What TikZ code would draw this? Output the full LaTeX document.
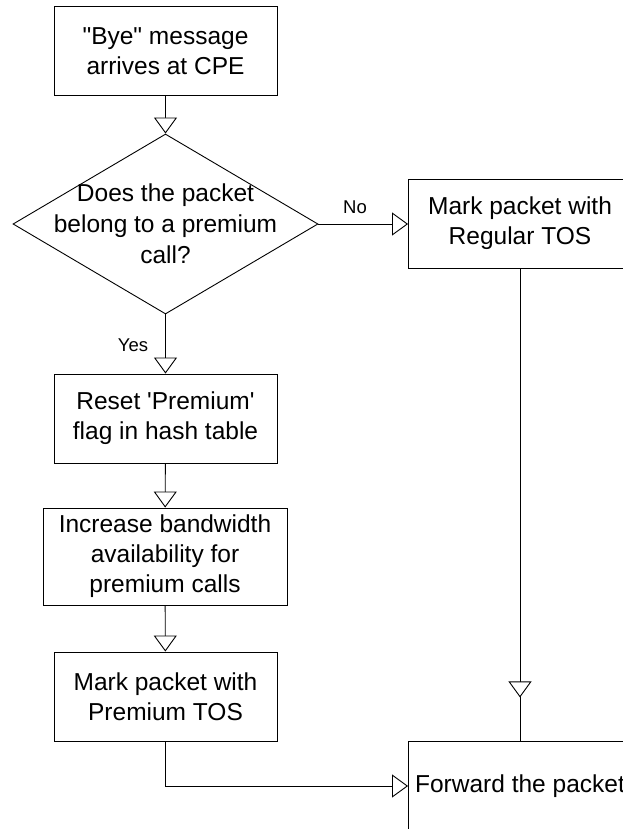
\documentclass[tikz,border=0pt]{standalone}
\usepackage{fontspec}
\setmainfont{Liberation Sans}
\usetikzlibrary{arrows.meta,shapes.geometric,decorations.markings}
\begin{document}
\begin{tikzpicture}[x=1pt,y=-1pt,
  line width=0.9pt,
  openhead/.tip={Triangle[length=16pt,width=23pt,fill=white,line width=0.9pt]},
  flow/.style={draw,-openhead},
  stepbox/.style={draw,rectangle,inner sep=0pt,minimum width=223pt,minimum height=89pt,
    align=center,font=\fontsize{24.5}{30}\selectfont},
  decision/.style={draw,diamond,inner sep=0pt,minimum width=305pt,minimum height=180pt},
  decisiontext/.style={align=center,font=\fontsize{24.5}{31}\selectfont},
  branch/.style={inner sep=0pt,font=\fontsize{18.5}{22}\selectfont}
]
\useasboundingbox (0,0) rectangle (623,829);
\clip (0,0) rectangle (623,829);

% left column
\node[stepbox] (bye) at (165.5,51) {\textquotedbl Bye\textquotedbl{} message\\arrives at CPE};
\node[decision] (dia) at (165.5,224) {};
\node[decisiontext] (diatext) at (165.5,224) {Does the packet\\belong to a premium\\call?};
\node[stepbox] (reset) at (165.5,418.5) {Reset \textquotesingle Premium\textquotesingle\\flag in hash table};
\node[stepbox,minimum width=244pt,minimum height=97pt] (bw) at (165,556.5)
  {Increase bandwidth\\availability for\\premium calls};
\node[stepbox] (prem) at (165.5,696.5) {Mark packet with\\Premium TOS};

% right column
\node[stepbox] (reg) at (520,223.5) {Mark packet with\\Regular TOS};
\node[stepbox,minimum height=90pt] (fwd) at (520,786) {Forward the packet};

% branch labels
\node[branch] (no) at (355,207) {No};
\node[branch] (yes) at (133,345) {Yes};

% connectors
\draw[flow] (bye) -- (dia.north);
\draw[flow] (dia.east) -- (dia.east -| reg.west);
\draw[flow] (dia.south) -- (reset);
\draw[flow] (reset) -- (bw);
\draw[flow] (bw) -- (prem);
\draw[flow] (prem.south) |- (fwd.west);
\draw[postaction={decorate},
  decoration={markings,mark=at position 429pt with {\arrow{openhead}}}]
  (reg) -- (fwd);
\end{tikzpicture}
\end{document}
